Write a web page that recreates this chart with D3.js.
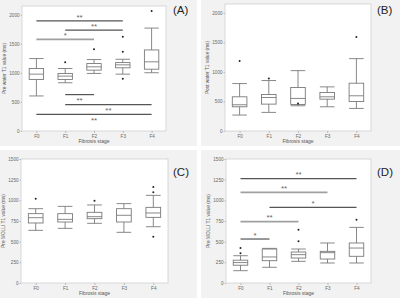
<!DOCTYPE html>
<html>
<head>
<meta charset="utf-8">
<script src="https://cdn.jsdelivr.net/npm/d3@7"></script>
<style>
  body { margin: 0; background: #fff; }
  svg { display: block; font-family: "Liberation Sans", Arial, sans-serif; }
</style>
</head>
<body>
<div class="container"></div>
<script>
const WIDTH = 400;
const HEIGHT = 298;

const stages = ["F0", "F1", "F2", "F3", "F4"];

// box values per stage: [whisker low, q1, median, q3, whisker high]
const preWaterBoxes = [
  [603, 887, 978, 1075, 1246],
  [830, 887, 944, 990, 1075],
  [990, 1047, 1104, 1160, 1229],
  [978, 1087, 1138, 1177, 1234],
  [1002, 1063, 1190, 1394, 1770]
];
const preWaterOutliers = [[], [1183], [1405], [898, 1365, 1621], [2065]];
// significance: [from stage, to stage, level, label]
const preWaterSig = [
  ["F0", "F3", 1894, "**"],
  ["F1", "F3", 1735, "**"],
  ["F0", "F2", 1575, "*"],
  ["F1", "F2", 626, "**"],
  ["F1", "F4", 455, "**"],
  ["F0", "F4", 285, "**"]
];

const postWaterBoxes = [
  [270, 410, 444, 579, 803],
  [315, 455, 567, 618, 854],
  [427, 449, 551, 736, 1022],
  [410, 539, 579, 652, 747],
  [382, 500, 596, 809, 1225]
];
const postWaterOutliers = [[1185], [888], [466], [], [1590]];
const postWaterSig = [];

const molliBoxesC = [
  [637, 726, 790, 839, 899],
  [661, 738, 770, 839, 927],
  [722, 778, 802, 855, 944],
  [613, 738, 819, 899, 960],
  [681, 794, 847, 915, 1060]
];
const molliOutliersC = [[1020], [], [996], [], [560, 1097, 1161]];
const molliSigC = [];

const molliBoxesD = [
  [149, 215, 247, 276, 330],
  [190, 270, 315, 411, 419],
  [262, 302, 343, 375, 411],
  [242, 290, 367, 383, 484],
  [242, 323, 423, 484, 673]
];
const molliOutliersD = [[360, 423], [], [504, 645], [], [766]];
const molliSigD = [
  ["F0", "F4", 1262, "**"],
  ["F0", "F3", 1097, "**"],
  ["F1", "F4", 915, "*"],
  ["F0", "F2", 742, "**"],
  ["F0", "F1", 532, "*"]
];

const waterTicks = [0, 500, 1000, 1500, 2000];
const molliTicks = [0, 250, 500, 750, 1000, 1250, 1500];

var panels = [
  { tag: "(A)", ylabel: "Pre water T1 value (ms)", boxes: preWaterBoxes, outliers: preWaterOutliers,
    sig: preWaterSig, ticks: waterTicks, max: 2150, bg: [0, 0, 197, 146],
    left: 22, right: 166, top: 6, bottom: 131, labelX: 4, tagX: 173, tagY: 14,
    light: [false, false, true, false, false, false], below: [false, false, false, true, true, true] },
  { tag: "(B)", ylabel: "Post water T1 value (ms)", boxes: postWaterBoxes, outliers: postWaterOutliers,
    sig: postWaterSig, ticks: waterTicks, max: 2150, bg: [201, 0, 199, 146],
    left: 225, right: 371, top: 4, bottom: 131, labelX: 207, tagX: 377, tagY: 14,
    light: [], below: [] },
  { tag: "(C)", ylabel: "Pre MOLLI T1 value (ms)", boxes: molliBoxesC, outliers: molliOutliersC,
    sig: molliSigC, ticks: molliTicks, max: 1500, bg: [0, 150, 197, 148],
    left: 21, right: 168, top: 159, bottom: 283, labelX: 3, tagX: 173, tagY: 176,
    light: [], below: [] },
  { tag: "(D)", ylabel: "Pre MOLLI T1 value (ms)", boxes: molliBoxesD, outliers: molliOutliersD,
    sig: molliSigD, ticks: molliTicks, max: 1500, bg: [201, 150, 199, 148],
    left: 226, right: 371, top: 159, bottom: 283, labelX: 208, tagX: 377, tagY: 176,
    light: [false, true, false, true, false], below: [false, false, false, false, false] }
];

var svg = d3.select(".container").append("svg")
  .attr("width", WIDTH)
  .attr("height", HEIGHT);

var drawPanel = function(p) {
  var g = svg.append("g");

  g.append("rect")
    .attr("x", p.bg[0]).attr("y", p.bg[1])
    .attr("width", p.bg[2]).attr("height", p.bg[3])
    .attr("fill", "#f2f2f2");

  g.append("rect")
    .attr("x", p.left).attr("y", p.top)
    .attr("width", p.right - p.left).attr("height", p.bottom - p.top)
    .attr("fill", "#fff")
    .attr("stroke", "#cfcfcf")
    .attr("stroke-width", 0.8);

  var x = d3.scalePoint().domain(stages).range([p.left, p.right]).padding(0.5);
  var y = d3.scaleLinear().domain([0, p.max]).range([p.bottom, p.top]);
  var bw = x.step() * 0.5;

  var yAxis = d3.axisLeft(y).tickValues(p.ticks).tickFormat(d3.format("d")).tickSize(1.5).tickPadding(1);
  var ya = g.append("g").attr("transform", "translate(" + p.left + ",0)").call(yAxis);
  var xAxis = d3.axisBottom(x).tickSize(2).tickPadding(1.5);
  var xa = g.append("g").attr("transform", "translate(0," + p.bottom + ")").call(xAxis);
  [ya, xa].forEach(function(a) {
    a.select(".domain").remove();
    a.selectAll("line").attr("stroke", "#bbb");
    a.selectAll("text").attr("fill", "#666").style("font-size", "4.6px");
  });

  g.append("text")
    .attr("x", (p.left + p.right) / 2)
    .attr("y", p.bottom + 12)
    .attr("text-anchor", "middle")
    .attr("fill", "#555")
    .style("font-size", "5px")
    .text("Fibrosis stage");

  g.append("text")
    .attr("transform", "translate(" + (p.labelX + 1.5) + "," + ((p.top + p.bottom) / 2) + ") rotate(-90)")
    .attr("text-anchor", "middle")
    .attr("fill", "#555")
    .style("font-size", "4.8px")
    .text(p.ylabel);

  g.append("text")
    .attr("x", p.tagX).attr("y", p.tagY)
    .attr("fill", "#222")
    .style("font-size", "11.5px")
    .text(p.tag);

  // boxes
  var boxes = g.append("g").selectAll("g")
    .data(p.boxes)
    .enter().append("g")
    .attr("stroke", "#7a7a7a")
    .attr("stroke-width", 0.9)
    .attr("fill", "none");

  boxes.append("line")
    .attr("x1", function(d, i) { return x(stages[i]); })
    .attr("x2", function(d, i) { return x(stages[i]); })
    .attr("y1", function(d) { return y(d[0]); })
    .attr("y2", function(d) { return y(d[1]); });
  boxes.append("line")
    .attr("x1", function(d, i) { return x(stages[i]); })
    .attr("x2", function(d, i) { return x(stages[i]); })
    .attr("y1", function(d) { return y(d[3]); })
    .attr("y2", function(d) { return y(d[4]); });
  [0, 4].forEach(function(k) {
    boxes.append("line")
      .attr("x1", function(d, i) { return x(stages[i]) - bw / 2; })
      .attr("x2", function(d, i) { return x(stages[i]) + bw / 2; })
      .attr("y1", function(d) { return y(d[k]); })
      .attr("y2", function(d) { return y(d[k]); });
  });
  boxes.append("rect")
    .attr("x", function(d, i) { return x(stages[i]) - bw / 2; })
    .attr("y", function(d) { return y(d[3]); })
    .attr("width", bw)
    .attr("height", function(d) { return y(d[1]) - y(d[3]); });
  boxes.append("line")
    .attr("x1", function(d, i) { return x(stages[i]) - bw / 2; })
    .attr("x2", function(d, i) { return x(stages[i]) + bw / 2; })
    .attr("y1", function(d) { return y(d[2]); })
    .attr("y2", function(d) { return y(d[2]); });

  // outliers
  var pts = [];
  p.outliers.forEach(function(list, i) {
    list.forEach(function(v) { pts.push({ s: stages[i], v: v }); });
  });
  g.append("g").selectAll("circle")
    .data(pts)
    .enter().append("circle")
    .attr("cx", function(d) { return x(d.s); })
    .attr("cy", function(d) { return y(d.v); })
    .attr("r", 1)
    .attr("fill", "#222");

  // significance bars
  var sig = g.append("g").selectAll("g")
    .data(p.sig)
    .enter().append("g");
  sig.append("line")
    .attr("x1", function(d) { return x(d[0]); })
    .attr("x2", function(d) { return x(d[1]); })
    .attr("y1", function(d) { return y(d[2]); })
    .attr("y2", function(d) { return y(d[2]); })
    .attr("stroke", function(d, i) { return p.light[i] ? "#a0a0a0" : "#555"; })
    .attr("stroke-width", function(d, i) { return p.light[i] ? 1.8 : 1.2; });
  sig.append("text")
    .attr("x", function(d) { return (x(d[0]) + x(d[1])) / 2; })
    .attr("y", function(d, i) { return p.below[i] ? y(d[2]) + 8.5 : y(d[2]) - 1.2; })
    .attr("text-anchor", "middle")
    .attr("fill", "#666")
    .style("font-size", "8px")
    .text(function(d) { return d[3]; });
};

panels.forEach(drawPanel);
</script>
</body>
</html>
